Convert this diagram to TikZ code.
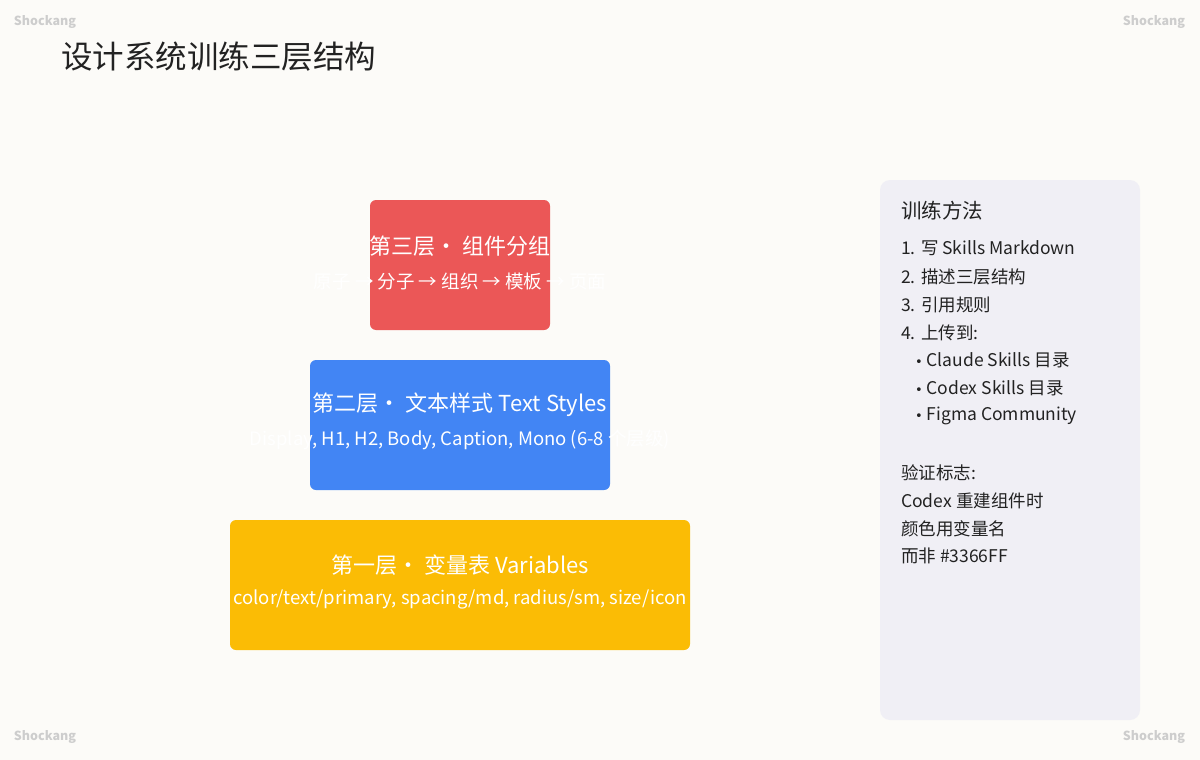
\documentclass[tikz,border=0pt]{standalone}
\usepackage{fontspec}
\setmainfont{Noto Sans CJK SC}
\newfontfamily\bulletfont{DejaVu Sans}
\definecolor{bg}{HTML}{FCFBF8}
\definecolor{panel}{HTML}{F0EFF5}
\definecolor{red1}{HTML}{EB5757}
\definecolor{blue1}{HTML}{4285F4}
\definecolor{yel1}{HTML}{FBBC05}
\definecolor{ink}{HTML}{222222}
\definecolor{wm}{HTML}{CDCDCD}
\newcommand{\bul}{{\bulletfont\fontsize{13}{16}\selectfont •}}
\begin{document}
\begin{tikzpicture}[x=1pt,y=-1pt,
  layer/.style={rounded corners=6pt,draw=none},
  head/.style={text=white,font=\fontsize{22}{26}\selectfont},
  sub/.style={text=white,font=\fontsize{18.5}{22}\selectfont},
  ptext/.style={anchor=west,text=ink,font=\fontsize{17.5}{21}\selectfont,inner sep=0},
  wmark/.style={text=wm,font=\bfseries\fontsize{12.5}{14}\selectfont}]
\fill[bg] (0,0) rectangle (1200,760);
\useasboundingbox (0,0) rectangle (1200,760);
\node[wmark] (w1) at (45,22) {Shockang};
\node[wmark] (w2) at (1154,22) {Shockang};
\node[wmark] (w3) at (45,737) {Shockang};
\node[wmark] (w4) at (1154,737) {Shockang};
\node[anchor=west,text=ink,font=\fontsize{31.5}{36}\selectfont,inner sep=0] (title) at (61,57) {设计系统训练三层结构};
\fill[layer,red1] (370,200) rectangle (550,330);
\fill[layer,blue1] (310,360) rectangle (610,490);
\fill[layer,yel1] (230,520) rectangle (690,650);
\node[head] (h3) at (460,246) {第三层· 组件分组};
\node[sub] (s3) at (460,281) {原子 → 分子 → 组织 → 模板 → 页面};
\node[head] (h2) at (460,405) {第二层· 文本样式 Text Styles};
\node[sub] (s2) at (460,440) {Display, H1, H2, Body, Caption, Mono (6-8 个层级)};
\node[head] (h1) at (460,565) {第一层· 变量表 Variables};
\node[sub] (s1) at (460,599) {color/text/primary, spacing/md, radius/sm, size/icon};
\fill[panel,rounded corners=10pt] (880,180) rectangle (1140,720);
\node[ptext,font=\fontsize{20.5}{24}\selectfont] (ph) at (901,211) {训练方法};
\node[ptext] (p1) at (901,248) {1. 写 Skills Markdown};
\node[ptext] (p2) at (901,277) {2. 描述三层结构};
\node[ptext] (p3) at (901,305) {3. 引用规则};
\node[ptext] (p4) at (901,333) {4. 上传到:};
\node[ptext] (p5) at (915,360) {\bul\ Claude Skills 目录};
\node[ptext] (p6) at (915,388) {\bul\ Codex Skills 目录};
\node[ptext] (p7) at (915,416) {\bul\ Figma Community};
\node[ptext] (v0) at (901,473) {验证标志:};
\node[ptext] (v1) at (901,501) {Codex 重建组件时};
\node[ptext] (v2) at (901,529) {颜色用变量名};
\node[ptext] (v3) at (901,556) {而非 \#3366FF};
\end{tikzpicture}
\end{document}
